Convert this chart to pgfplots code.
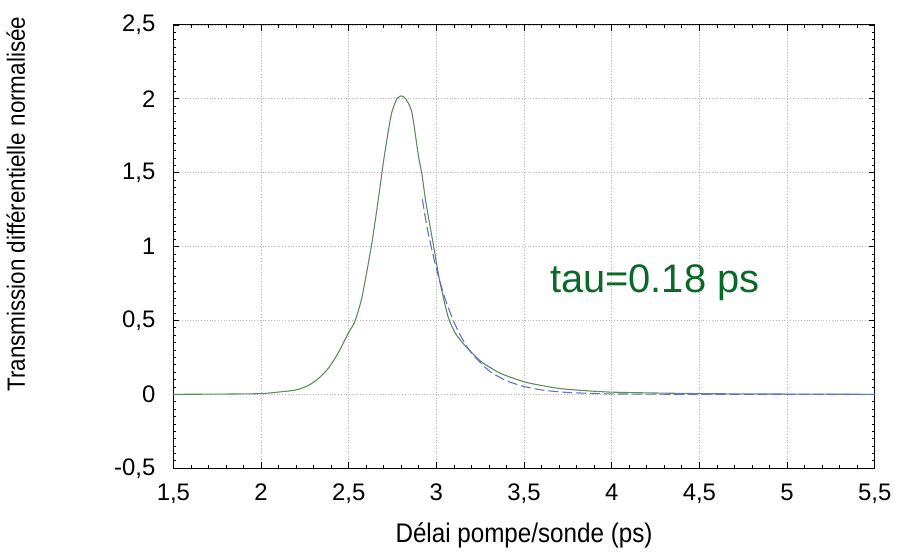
\documentclass[border=0pt]{standalone}
\usepackage{fontspec}
\setmainfont{Liberation Sans}
\newfontfamily\labfont{Liberation Sans}[FakeStretch=0.9]
\usepackage{pgfplots}
\pgfplotsset{compat=1.18}
\pgfplotsset{/pgf/number format/use comma, /pgf/number format/assume math mode=true}
\definecolor{curvegreen}{RGB}{95,140,95}
\definecolor{fitblue}{RGB}{100,110,210}
\definecolor{taugreen}{RGB}{10,105,40}
\begin{document}
\begin{tikzpicture}
\begin{axis}[
  scale only axis, width=352pt, height=222.5pt,
  xmin=1.5, xmax=5.5, ymin=-0.5, ymax=2.5,
  xtick={1.5,2,2.5,3,3.5,4,4.5,5,5.5},
  ytick={-0.5,0,0.5,1,1.5,2,2.5},
  minor x tick num=4, minor y tick num=9,
  tick align=inside, major tick length=3pt, minor tick length=1.5pt,
  tick style={black, line width=0.4pt},
  grid=major, major grid style={densely dotted, gray!55, line width=0.4pt},
  axis line style={line width=0.5pt},
  tick label style={font=\fontsize{12}{14}\selectfont},
  yticklabel style={xshift=-5.5pt},
  xticklabel style={yshift=-4.5pt},
  xlabel={\labfont Délai pompe/sonde (ps)},
  xlabel style={font=\fontsize{13.5}{15}\selectfont, at={(axis description cs:0.5,-0.168)}, anchor=base},
  ylabel={\labfont Transmission différentielle normalisée},
  ylabel style={font=\fontsize{12.5}{15}\selectfont, at={(axis description cs:-0.2116,0.5955)}, anchor=base, rotate=0},
]
\addplot[curvegreen, line width=0.55pt, smooth, tension=0.4] coordinates {
(1.5,0) (1.8,0.002) (2.0,0.005) (2.12,0.018) (2.2,0.03) (2.27,0.06) (2.33,0.11)
(2.386,0.18) (2.44,0.28) (2.5,0.42) (2.534,0.49) (2.576,0.66) (2.63,1.01)
(2.67,1.33) (2.70,1.59) (2.727,1.79) (2.746,1.91) (2.775,2.0) (2.80,2.02) (2.825,2.0)
(2.86,1.91) (2.898,1.61) (2.916,1.50) (2.94,1.30) (2.983,1.01) (3.02,0.76) (3.068,0.52)
(3.11,0.41) (3.163,0.33) (3.257,0.22) (3.37,0.14) (3.50,0.085) (3.6,0.06)
(3.73,0.036) (4.0,0.015) (4.5,0.005) (5.0,0.002) (5.5,0)
};
\addplot[fitblue, line width=0.55pt, dash pattern=on 5pt off 2pt, smooth, tension=0.4] coordinates {
(2.92,1.32) (2.95,1.11) (3.0,0.85) (3.05,0.646) (3.1,0.49) (3.15,0.37)
(3.2,0.28) (3.3,0.16) (3.4,0.092) (3.5,0.053) (3.6,0.030) (3.7,0.017)
(3.8,0.010) (4.0,0.003) (4.5,0.0002) (5.0,0) (5.5,0)
};
\node[anchor=base west, inner sep=0, text=taugreen, font=\fontsize{20}{24}\selectfont] at (axis cs:3.646,0.688) {tau=0.18 ps};
\end{axis}
\path ([xshift=-87pt,yshift=-41pt]current axis.south west) rectangle ([xshift=10pt,yshift=12.5pt]current axis.north east);
\end{tikzpicture}
\end{document}
